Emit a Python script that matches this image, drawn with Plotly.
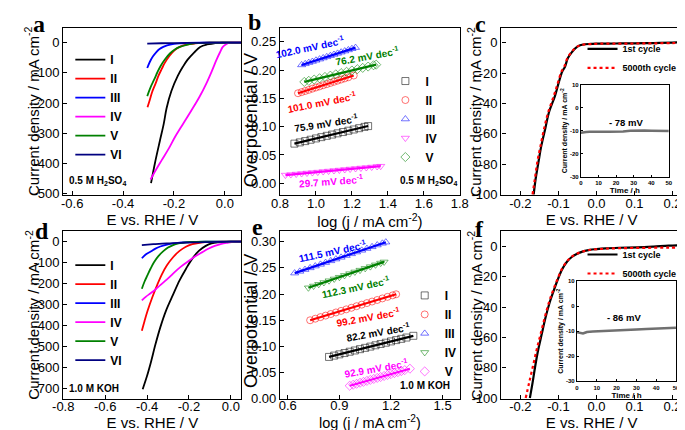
import plotly.graph_objects as go

# ---------------- DATA ----------------
# Panel a: LSV in 0.5 M H2SO4 (E vs RHE / V, j / mA cm-2)
a_I_x = [-0.290, -0.275, -0.255, -0.240, -0.229, -0.210, -0.185, -0.165, -0.147, -0.120, -0.097, -0.070, -0.047, -0.025, -0.010, 0.020, 0.065]
a_I_y = [-465, -400, -324, -268, -217, -160, -110, -80, -57, -32, -14, -6, -3, -1, 0, 0, 0]
a_II_x = [-0.304, -0.295, -0.286, -0.272, -0.261, -0.248, -0.236, -0.218, -0.198, -0.175, -0.147, -0.120, -0.097, -0.060, -0.020, 0.030, 0.065]
a_II_y = [-214, -190, -164, -135, -110, -87, -67, -44, -25, -13, -6, -3, -1, 0, 0, 0, 0]
a_III_x = [-0.305, -0.295, -0.283, -0.270, -0.258, -0.242, -0.227, -0.200, -0.177, -0.150, -0.100, -0.050, 0.000, 0.065]
a_III_y = [-84, -64, -46, -32, -22, -14, -9, -4, -2, -1, 0, 0, 0, 0]
a_IV_x = [-0.292, -0.270, -0.248, -0.220, -0.197, -0.165, -0.134, -0.100, -0.071, -0.050, -0.033, -0.018, -0.008, 0.005, 0.015, 0.030, 0.065]
a_IV_y = [-453, -420, -389, -350, -314, -270, -228, -180, -132, -92, -57, -30, -14, -5, -1, 0, 0]
a_V_x = [-0.305, -0.292, -0.277, -0.265, -0.253, -0.235, -0.215, -0.195, -0.177, -0.150, -0.127, -0.100, -0.060, -0.020, 0.030, 0.065]
a_V_y = [-177, -148, -121, -98, -78, -55, -35, -22, -14, -7, -3, -1, 0, 0, 0, 0]
a_VI_x = [-0.305, -0.250, -0.200, -0.150, -0.100, -0.050, 0.000, 0.065]
a_VI_y = [-3, -2, -1.5, -1, -0.5, 0, 0, 0]

# Panel b: Tafel, 0.5 M H2SO4
b_I_x = [0.88, 0.91, 0.94, 0.97, 1.00, 1.03, 1.06, 1.09, 1.12, 1.15, 1.18, 1.21, 1.24, 1.27, 1.29]
b_I_y = [0.0700, 0.0722, 0.0745, 0.0769, 0.0792, 0.0815, 0.0838, 0.0860, 0.0882, 0.0905, 0.0928, 0.0950, 0.0973, 0.0996, 0.1010]
b_II_x = [0.90, 0.92, 0.94, 0.96, 0.98, 1.00, 1.02, 1.04, 1.06, 1.08, 1.10, 1.12, 1.14, 1.16, 1.18, 1.21]
b_II_y = [0.1590, 0.1610, 0.1630, 0.1650, 0.1671, 0.1691, 0.1711, 0.1731, 0.1751, 0.1772, 0.1792, 0.1812, 0.1832, 0.1852, 0.1872, 0.1903]
b_III_x = [0.92, 0.94, 0.96, 0.98, 1.00, 1.02, 1.04, 1.06, 1.08, 1.10, 1.12, 1.14, 1.16, 1.18, 1.20, 1.22]
b_III_y = [0.2090, 0.2110, 0.2131, 0.2151, 0.2172, 0.2192, 0.2213, 0.2233, 0.2253, 0.2274, 0.2294, 0.2315, 0.2335, 0.2355, 0.2376, 0.2396]
b_IV_x = [0.83, 0.86, 0.89, 0.92, 0.95, 0.98, 1.01, 1.04, 1.07, 1.10, 1.13, 1.16, 1.19, 1.22, 1.25, 1.28, 1.31, 1.34, 1.36]
b_IV_y = [0.0145, 0.0154, 0.0163, 0.0172, 0.0181, 0.0189, 0.0198, 0.0207, 0.0216, 0.0225, 0.0234, 0.0243, 0.0252, 0.0261, 0.0270, 0.0278, 0.0287, 0.0296, 0.0302]
b_V_x = [0.935, 0.96, 0.99, 1.02, 1.05, 1.08, 1.11, 1.14, 1.17, 1.20, 1.23, 1.26, 1.29, 1.32, 1.335]
b_V_y = [0.1790, 0.1809, 0.1832, 0.1855, 0.1878, 0.1901, 0.1924, 0.1946, 0.1969, 0.1992, 0.2015, 0.2038, 0.2061, 0.2084, 0.2095]
b_fit_x = {"I": [0.88, 1.29], "II": [0.90, 1.21], "III": [0.92, 1.22], "IV": [0.83, 1.36], "V": [0.935, 1.335]}
b_fit_y = {"I": [0.0700, 0.1011], "II": [0.1590, 0.1903], "III": [0.2090, 0.2396], "IV": [0.0145, 0.0302], "V": [0.1790, 0.2095]}
b_slopes = ["75.9", "101.0", "102.0", "29.7", "76.2"]

# Panel c: stability in 0.5 M H2SO4
c_1st_x = [-0.165, -0.160, -0.152, -0.145, -0.134, -0.125, -0.109, -0.100, -0.090, -0.083, -0.075, -0.064, -0.055, -0.043, -0.030, -0.015, 0.000, 0.050, 0.100, 0.150, 0.200, 0.225]
c_1st_y = [-100, -90, -78, -68, -56, -46, -35, -27, -19, -16, -10, -6, -3.5, -1.7, -1.0, -0.8, -0.6, -0.5, -0.4, -0.2, 0.1, 0.3]
c_5000_x = [-0.168, -0.162, -0.155, -0.147, -0.137, -0.127, -0.112, -0.102, -0.092, -0.085, -0.076, -0.065, -0.056, -0.044, -0.030, -0.015, 0.000, 0.050, 0.100, 0.150, 0.200, 0.225]
c_5000_y = [-100, -90, -78, -68, -56, -46, -35, -27, -19, -16, -10, -6, -3.5, -1.8, -1.1, -0.9, -0.7, -0.6, -0.5, -0.4, -0.2, -0.1]
c_t = [0, 1, 3, 5, 8, 10, 13, 16, 20, 24, 28, 32, 36, 40, 44, 48, 50]
c_j = [-10.8, -10.6, -10.5, -10.4, -10.3, -10.3, -10.4, -10.4, -10.5, -10.3, -10.0, -9.8, -9.8, -9.9, -10.0, -10.1, -10.1]

# Panel d: LSV in 1.0 M KOH
d_I_x = [-0.421, -0.400, -0.383, -0.360, -0.337, -0.310, -0.276, -0.245, -0.214, -0.185, -0.153, -0.120, -0.092, -0.060, -0.031, 0.000, 0.050]
d_I_y = [-704, -640, -580, -490, -409, -330, -253, -185, -129, -82, -44, -20, -8, -3, -1.5, 0, 0]
d_II_x = [-0.425, -0.412, -0.398, -0.375, -0.352, -0.330, -0.306, -0.275, -0.245, -0.215, -0.184, -0.150, -0.123, -0.080, -0.040, 0.000, 0.050]
d_II_y = [-425, -378, -331, -265, -207, -157, -114, -73, -44, -24, -12, -5, -2, -1, 0, 0, 0]
d_III_x = [-0.425, -0.405, -0.383, -0.360, -0.337, -0.305, -0.276, -0.245, -0.214, -0.170, -0.120, -0.060, 0.000, 0.050]
d_III_y = [-79, -60, -47, -33, -23, -14, -8, -4, -2, -1, 0, 0, 0, 0]
d_IV_x = [-0.425, -0.405, -0.383, -0.360, -0.337, -0.305, -0.276, -0.240, -0.199, -0.170, -0.138, -0.108, -0.077, -0.045, -0.016, 0.015, 0.050]
d_IV_y = [-280, -262, -246, -228, -207, -180, -152, -120, -90, -70, -51, -34, -20, -10, -5, -1, 0]
d_V_x = [-0.425, -0.412, -0.398, -0.383, -0.367, -0.345, -0.321, -0.300, -0.276, -0.250, -0.230, -0.200, -0.169, -0.120, -0.060, 0.000, 0.050]
d_V_y = [-225, -190, -160, -128, -98, -68, -44, -28, -16, -8, -5, -2, -1, 0, 0, 0, 0]
d_VI_x = [-0.425, -0.370, -0.306, -0.250, -0.200, -0.153, -0.100, -0.050, 0.000, 0.050]
d_VI_y = [-16, -12, -8, -6, -4, -3, -2, -1, 0, 0]

# Panel e: Tafel, 1.0 M KOH
e_I_x = [0.84, 0.87, 0.90, 0.93, 0.96, 0.99, 1.02, 1.05, 1.08, 1.11, 1.14, 1.17, 1.20, 1.23, 1.26, 1.29, 1.33]
e_I_y = [0.0800, 0.0825, 0.0849, 0.0874, 0.0899, 0.0923, 0.0948, 0.0973, 0.0997, 0.1022, 0.1047, 0.1071, 0.1096, 0.1121, 0.1145, 0.1170, 0.1203]
e_II_x = [0.73, 0.76, 0.79, 0.82, 0.85, 0.88, 0.91, 0.94, 0.97, 1.00, 1.03, 1.06, 1.09, 1.12, 1.15, 1.18, 1.21, 1.23]
e_II_y = [0.1500, 0.1530, 0.1560, 0.1589, 0.1619, 0.1649, 0.1679, 0.1708, 0.1738, 0.1768, 0.1798, 0.1828, 0.1857, 0.1887, 0.1917, 0.1947, 0.1976, 0.1996]
e_III_x = [0.64, 0.67, 0.70, 0.73, 0.76, 0.79, 0.82, 0.85, 0.88, 0.91, 0.94, 0.97, 1.00, 1.03, 1.06, 1.09, 1.12, 1.15, 1.17]
e_III_y = [0.2400, 0.2433, 0.2467, 0.2500, 0.2534, 0.2567, 0.2601, 0.2634, 0.2668, 0.2701, 0.2735, 0.2768, 0.2802, 0.2835, 0.2869, 0.2902, 0.2936, 0.2969, 0.2991]
e_IV_x = [0.72, 0.75, 0.78, 0.81, 0.84, 0.87, 0.90, 0.93, 0.96, 0.99, 1.02, 1.05, 1.08, 1.11, 1.14, 1.16]
e_IV_y = [0.2120, 0.2154, 0.2187, 0.2221, 0.2255, 0.2289, 0.2322, 0.2356, 0.2390, 0.2423, 0.2457, 0.2491, 0.2524, 0.2558, 0.2592, 0.2614]
e_V_x = [0.96, 0.98, 1.00, 1.02, 1.04, 1.06, 1.08, 1.10, 1.12, 1.14, 1.16, 1.18, 1.20, 1.22, 1.24, 1.26, 1.28, 1.31]
e_V_y = [0.0250, 0.0269, 0.0287, 0.0306, 0.0324, 0.0343, 0.0362, 0.0380, 0.0399, 0.0417, 0.0436, 0.0455, 0.0473, 0.0492, 0.0510, 0.0529, 0.0548, 0.0575]
e_fit_x = {"I": [0.84, 1.33], "II": [0.73, 1.23], "III": [0.64, 1.17], "IV": [0.72, 1.16], "V": [0.96, 1.31]}
e_fit_y = {"I": [0.0800, 0.1203], "II": [0.1500, 0.1996], "III": [0.2400, 0.2991], "IV": [0.2120, 0.2614], "V": [0.0250, 0.0575]}
e_slopes = ["82.2", "99.2", "111.5", "112.3", "92.9"]

# Panel f: stability in 1.0 M KOH
f_1st_x = [-0.175, -0.168, -0.161, -0.153, -0.144, -0.134, -0.123, -0.112, -0.102, -0.090, -0.077, -0.065, -0.052, -0.035, -0.018, 0.000, 0.024, 0.060, 0.108, 0.150, 0.190, 0.225]
f_1st_y = [-100, -90, -79, -68, -58, -47, -37, -29, -22, -15, -10, -7, -5, -3.3, -2.3, -1.8, -1.3, -0.9, -0.6, -0.1, 0.5, 0.8]
f_5000_x = [-0.186, -0.177, -0.167, -0.157, -0.147, -0.136, -0.125, -0.114, -0.103, -0.091, -0.078, -0.066, -0.053, -0.036, -0.019, 0.000, 0.024, 0.060, 0.108, 0.150, 0.190, 0.225]
f_5000_y = [-100, -90, -79, -68, -58, -47, -37, -29, -22, -15, -10, -7, -5, -3.4, -2.4, -1.9, -1.5, -1.2, -1.0, -0.9, -0.8, -0.8]
f_t = [0, 1, 2, 3, 4, 5, 8, 12, 16, 20, 25, 30, 35, 40, 45, 50]
f_j = [-10.4, -10.6, -10.8, -10.9, -10.6, -10.3, -10.1, -9.9, -9.8, -9.6, -9.4, -9.3, -9.1, -9.0, -8.8, -8.6]

# Tick labels
a_xt = [-0.6, -0.4, -0.2, 0.0]; a_xl = ["-0.6", "-0.4", "-0.2", "0.0"]
a_yt = [0, -100, -200, -300, -400, -500]; a_yl = ["0", "-100", "-200", "-300", "-400", "-500"]
b_xt = [0.8, 1.0, 1.2, 1.4, 1.6, 1.8]; b_xl = ["0.8", "1.0", "1.2", "1.4", "1.6", "1.8"]
b_yt = [0.0, 0.05, 0.10, 0.15, 0.20, 0.25]; b_yl = ["0.00", "0.05", "0.10", "0.15", "0.20", "0.25"]
c_xt = [-0.2, -0.1, 0.0, 0.1, 0.2]; c_xl = ["-0.2", "-0.1", "0.0", "0.1", "0.2"]
c_yt = [0, -20, -40, -60, -80, -100]; c_yl = ["0", "-20", "-40", "-60", "-80", "-100"]
d_xt = [-0.8, -0.6, -0.4, -0.2, 0.0]; d_xl = ["-0.8", "-0.6", "-0.4", "-0.2", "0.0"]
d_yt = [0, -100, -200, -300, -400, -500, -600, -700]; d_yl = ["0", "-100", "-200", "-300", "-400", "-500", "-600", "-700"]
e_xt = [0.6, 0.9, 1.2, 1.5]; e_xl = ["0.6", "0.9", "1.2", "1.5"]
e_yt = [0.0, 0.05, 0.10, 0.15, 0.20, 0.25, 0.30]; e_yl = ["0.00", "0.05", "0.10", "0.15", "0.20", "0.25", "0.30"]
in_xt = [0, 10, 20, 30, 40, 50]; in_xl = ["0", "10", "20", "30", "40", "50"]
in_yt = [10, 0, -10, -20, -30]; in_yl = ["10", "0", "-10", "-20", "-30"]

names = ["I", "II", "III", "IV", "V", "VI"]

# ---------------- STYLE ----------------
W, H = 685, 430
SANS = "Liberation Sans, Arial, sans-serif"
SERIF = "Liberation Serif, Times New Roman, serif"
BLACK, RED, BLUE, MAG, GREEN, NAVY = "#000000", "#ff0000", "#0000ff", "#ff00ff", "#008000", "#000080"
lsv_colors = [BLACK, RED, BLUE, MAG, GREEN, NAVY]
b_colors = [BLACK, RED, BLUE, MAG, GREEN]
e_colors = [BLACK, RED, BLUE, GREEN, MAG]
symbols = ["square-open", "circle-open", "triangle-up-open", "triangle-down-open", "diamond-open"]

def px_dom_x(x0, x1):
    return [x0 / W, x1 / W]

def px_dom_y(y0, y1):
    return [1 - y1 / H, 1 - y0 / H]

fig = go.Figure()

# Panel a & d LSV
a_data = [(a_I_x, a_I_y), (a_II_x, a_II_y), (a_III_x, a_III_y), (a_IV_x, a_IV_y), (a_V_x, a_V_y), (a_VI_x, a_VI_y)]
d_data = [(d_I_x, d_I_y), (d_II_x, d_II_y), (d_III_x, d_III_y), (d_IV_x, d_IV_y), (d_V_x, d_V_y), (d_VI_x, d_VI_y)]
for (xs, ys), nm, col in zip(a_data, names, lsv_colors):
    fig.add_trace(go.Scatter(x=xs, y=ys, mode="lines", name=nm, line=dict(color=col, width=1.8, shape="spline"),
                             xaxis="x", yaxis="y", legend="legend"))
for (xs, ys), nm, col in zip(d_data, names, lsv_colors):
    fig.add_trace(go.Scatter(x=xs, y=ys, mode="lines", name=nm, line=dict(color=col, width=1.8, shape="spline"),
                             xaxis="x4", yaxis="y4", legend="legend4"))

# Tafel panels
b_data = [(b_I_x, b_I_y), (b_II_x, b_II_y), (b_III_x, b_III_y), (b_IV_x, b_IV_y), (b_V_x, b_V_y)]
e_data = [(e_I_x, e_I_y), (e_II_x, e_II_y), (e_III_x, e_III_y), (e_IV_x, e_IV_y), (e_V_x, e_V_y)]
for (xs, ys), nm, col, sym in zip(b_data, names, b_colors, symbols):
    fig.add_trace(go.Scatter(x=xs, y=ys, mode="markers", name=nm,
                             marker=dict(symbol=sym, size=7, color=col, opacity=0.55, line=dict(width=1, color=col)),
                             xaxis="x2", yaxis="y2", legend="legend2"))
    fig.add_trace(go.Scatter(x=b_fit_x[nm], y=b_fit_y[nm], mode="lines", showlegend=False,
                             line=dict(color=col, width=2.2), xaxis="x2", yaxis="y2"))
for (xs, ys), nm, col, sym in zip(e_data, names, e_colors, symbols):
    fig.add_trace(go.Scatter(x=xs, y=ys, mode="markers", name=nm,
                             marker=dict(symbol=sym, size=7, color=col, opacity=0.55, line=dict(width=1, color=col)),
                             xaxis="x5", yaxis="y5", legend="legend5"))
    fig.add_trace(go.Scatter(x=e_fit_x[nm], y=e_fit_y[nm], mode="lines", showlegend=False,
                             line=dict(color=col, width=2.2), xaxis="x5", yaxis="y5"))

# Stability panels
fig.add_trace(go.Scatter(x=c_1st_x, y=c_1st_y, mode="lines", name="1st cycle", line=dict(color=BLACK, width=2.2, shape="spline"),
                         xaxis="x3", yaxis="y3", legend="legend3"))
fig.add_trace(go.Scatter(x=c_5000_x, y=c_5000_y, mode="lines", name="5000th cycle", line=dict(color=RED, width=2.2, dash="dot", shape="spline"),
                         xaxis="x3", yaxis="y3", legend="legend3"))
fig.add_trace(go.Scatter(x=f_1st_x, y=f_1st_y, mode="lines", name="1st cycle", line=dict(color=BLACK, width=2.2, shape="spline"),
                         xaxis="x6", yaxis="y6", legend="legend6"))
fig.add_trace(go.Scatter(x=f_5000_x, y=f_5000_y, mode="lines", name="5000th cycle", line=dict(color=RED, width=2.2, dash="dot", shape="spline"),
                         xaxis="x6", yaxis="y6", legend="legend6"))
fig.add_trace(go.Scatter(x=c_t, y=c_j, mode="lines", showlegend=False, line=dict(color="#707070", width=2.5),
                         xaxis="x7", yaxis="y7"))
fig.add_trace(go.Scatter(x=f_t, y=f_j, mode="lines", showlegend=False, line=dict(color="#707070", width=2.5),
                         xaxis="x8", yaxis="y8"))

# ---------------- AXES ----------------
def ax(domain, rng, tv, tt, title, anchor, tfs=13, titfs=15, lw=1.4, ticklen=4, standoff=None, bold=False, lstand=None):
    d = dict(domain=domain, range=rng, tickmode="array", tickvals=tv, ticktext=tt,
             showline=True, mirror=True, linecolor="black", linewidth=lw,
             ticks="inside", ticklen=ticklen, tickwidth=1, tickcolor="black",
             showgrid=False, zeroline=False, anchor=anchor,
             tickfont=dict(family=SANS, size=tfs, color="black", weight="bold" if bold else "normal"),
             title=dict(text=title, font=dict(family=SANS, size=titfs, color="black", weight="bold" if bold else "normal")))
    if standoff is not None:
        d["title"]["standoff"] = standoff
    if lstand is not None:
        d["ticklabelstandoff"] = lstand
    return d

top = (17, 189)
bot = (226, 398)
colA = (42.7, 227)
colB = (267, 453)
colC = (496, 683)

ytitle = "Current density / mA cm<sup>-2</sup>"
xtitle = "E vs. RHE / V"
ltitle = "log (j / mA cm<sup>-2</sup>)"
lay = dict(
    xaxis=ax(px_dom_x(*colA), [-0.635, 0.065], a_xt, a_xl, xtitle, "y", standoff=0, lstand=-4),
    yaxis=ax(px_dom_y(*top), [-505, 50], a_yt, a_yl, "", "x"),
    xaxis2=ax(px_dom_x(*colB), [0.8, 1.8], b_xt, b_xl, ltitle, "y2", standoff=0, lstand=-4),
    yaxis2=ax(px_dom_y(*top), [-0.021, 0.275], b_yt, b_yl, "", "x2"),
    xaxis3=ax(px_dom_x(*colC), [-0.25, 0.225], c_xt, c_xl, xtitle, "y3", standoff=0, lstand=-4),
    yaxis3=ax(px_dom_y(*top), [-100.5, 10], c_yt, c_yl, "", "x3"),
    xaxis4=ax(px_dom_x(*colA), [-0.8, 0.05], d_xt, d_xl, xtitle, "y4", standoff=0, lstand=-5),
    yaxis4=ax(px_dom_y(*bot), [-750, 50], d_yt, d_yl, "", "x4"),
    xaxis5=ax(px_dom_x(*colB), [0.555, 1.6], e_xt, e_xl, ltitle, "y5", titfs=14.5, standoff=0, lstand=-6),
    yaxis5=ax(px_dom_y(*bot), [0, 0.32], e_yt, e_yl, "", "x5"),
    xaxis6=ax(px_dom_x(*colC), [-0.25, 0.225], c_xt, c_xl, xtitle, "y6", standoff=0, lstand=-5),
    yaxis6=ax(px_dom_y(*bot), [-100.5, 10], c_yt, c_yl, "", "x6"),
    xaxis7=ax(px_dom_x(578.3, 669.3), [0, 50], in_xt, in_xl, "Time / h", "y7", tfs=6, titfs=8, lw=1.2, ticklen=2, standoff=1, bold=True),
    yaxis7=ax(px_dom_y(76, 170), [-30, 10], in_yt, in_yl, ytitle, "x7", tfs=6, titfs=7, lw=1.2, ticklen=2, standoff=1, bold=True),
    xaxis8=ax(px_dom_x(574.3, 676.7), [0, 50], in_xt, in_xl, "Time / h", "y8", tfs=6, titfs=8, lw=1.2, ticklen=2, standoff=1, bold=True),
    yaxis8=ax(px_dom_y(277.3, 380), [-30, 10], in_yt, in_yl, ytitle, "x8", tfs=6, titfs=7, lw=1.2, ticklen=2, standoff=1, bold=True),
)

def leg(x, y, fs=12):
    return dict(x=x / W, y=1 - y / H, xanchor="left", yanchor="top", bgcolor="rgba(0,0,0,0)",
                borderwidth=0, font=dict(family=SANS, size=fs, color="black", weight="bold"),
                tracegroupgap=0, itemwidth=30)

lay.update(
    legend=leg(50, 35),
    legend2=leg(376, 57),
    legend3=leg(580, 24, fs=9),
    legend4=leg(50, 246),
    legend5=leg(396, 277),
    legend6=leg(580, 235, fs=9),
)

# ---------------- ANNOTATIONS ----------------
ann = []
for lab, px, py in [("a", 18, 13), ("b", 241, 11), ("c", 474, 13), ("d", 21, 226), ("e", 244, 222), ("f", 473, 224)]:
    ann.append(dict(text=lab, x=px / W, y=1 - py / H, xref="paper", yref="paper", showarrow=False,
                    xanchor="center", yanchor="middle", font=dict(family=SERIF, size=24, color="black", weight="bold")))

# main y-axis titles (placed like the original, partly overlapping the tick labels)
for txt, px, py, fs in [(ytitle, 10, 103, 15), ("Overpotential / V", 237, 112, 18), (ytitle, 468, 103, 15),
                        (ytitle, 10, 312, 15), ("Overpotential / V", 237, 318, 18), (ytitle, 468, 312, 15)]:
    ann.append(dict(text=txt, x=px / W, y=1 - py / H, xref="paper", yref="paper", showarrow=False, textangle=-90,
                    xanchor="center", yanchor="middle", font=dict(family=SANS, size=fs, color="black")))

def note(text, x, y, xr, yr, col, size=10, angle=0, xanchor="center"):
    ann.append(dict(text=text, x=x, y=y, xref=xr, yref=yr, showarrow=False, textangle=angle,
                    xanchor=xanchor, yanchor="middle", font=dict(family=SANS, size=size, color=col, weight="bold")))

dec = " mV dec<sup>-1</sup>"
# b slope labels
note(b_slopes[2] + dec, 0.965, 0.241, "x2", "y2", BLUE, angle=-12)
note(b_slopes[4] + dec, 1.282, 0.225, "x2", "y2", GREEN, angle=-10)
note(b_slopes[1] + dec, 1.036, 0.143, "x2", "y2", RED, angle=-11)
note(b_slopes[0] + dec, 1.055, 0.107, "x2", "y2", BLACK, angle=-9)
note(b_slopes[3] + dec, 1.082, 0.004, "x2", "y2", MAG, angle=-4)
note("0.5 M H<sub>2</sub>SO<sub>4</sub>", 1.627, 0.004, "x2", "y2", BLACK)
# e slope labels
note(e_slopes[2] + dec, 0.860, 0.283, "x5", "y5", BLUE, angle=-12)
note(e_slopes[3] + dec, 0.995, 0.214, "x5", "y5", GREEN, angle=-12)
note(e_slopes[1] + dec, 1.065, 0.156, "x5", "y5", RED, angle=-10)
note(e_slopes[0] + dec, 1.125, 0.127, "x5", "y5", BLACK, angle=-10)
note(e_slopes[4] + dec, 1.115, 0.059, "x5", "y5", MAG, angle=-10)
note("1.0 M KOH", 1.40, 0.026, "x5", "y5", BLACK)
# a, d electrolyte labels
note("0.5 M H<sub>2</sub>SO<sub>4</sub>", -0.622, -458, "x", "y", BLACK, xanchor="left")
note("1.0 M KOH", -0.782, -700, "x4", "y4", BLACK, xanchor="left")
# inset labels
note("- 78 mV", 25.6, -6.3, "x7", "y7", BLACK, size=9.5)
note("- 86 mV", 23.9, -4.7, "x8", "y8", BLACK, size=9.5)

lay.update(annotations=ann, width=W, height=H, margin=dict(l=0, r=0, t=0, b=0),
           paper_bgcolor="white", plot_bgcolor="white", showlegend=True,
           font=dict(family=SANS, color="black"))
fig.update_layout(**lay)
fig.write_html("out.html")
